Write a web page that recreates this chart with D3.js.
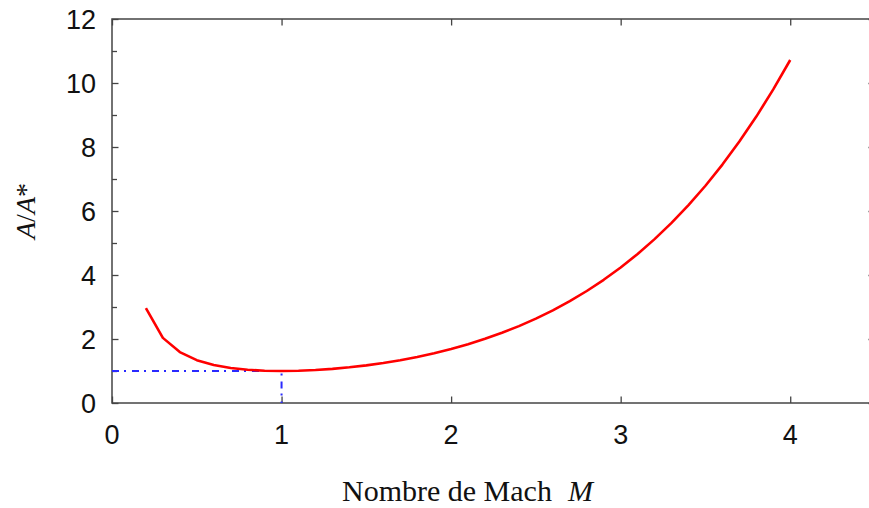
<!DOCTYPE html>
<html><head><meta charset="utf-8">
<script src="https://cdn.jsdelivr.net/npm/d3@7"></script>
<style>html,body{margin:0;padding:0;background:#fff;overflow:hidden}</style>
</head><body>
<svg id="c" width="869" height="508"></svg>
<script>
const mach = [0.2,0.3,0.4,0.5,0.6,0.7,0.8,0.9,1.0,1.1,1.2,1.3,1.4,1.5,1.6,1.7,1.8,1.9,2.0,2.1,2.2,2.3,2.4,2.5,2.6,2.7,2.8,2.9,3.0,3.1,3.2,3.3,3.4,3.5,3.6,3.7,3.8,3.9,4.0];
const areaRatio = [2.9635,2.0351,1.5901,1.3398,1.1882,1.0944,1.0382,1.0089,1.0000,1.0079,1.0304,1.0663,1.1149,1.1762,1.2502,1.3376,1.4390,1.5552,1.6875,1.8369,2.0050,2.1931,2.4031,2.6367,2.8960,3.1830,3.5001,3.8498,4.2346,4.6573,5.1210,5.6287,6.1837,6.7896,7.4501,8.1691,8.9506,9.7990,10.719];
const sonicX = [0, 1, 1];
const sonicY = [1, 1, 0];
const xTicks = [0,1,2,3,4];
const yTicks = [0,2,4,6,8,10,12];
const yMinor = [1,3,5,7,9,11];

const svg = d3.select("#c");
const L = 112, R = 875, T = 19, B = 403;
const x = d3.scaleLinear().domain([0,4.5]).range([L,R]);
const y = d3.scaleLinear().domain([0,12]).range([B,T]);
const axisCol = "#444";

// frame
svg.append("rect").attr("x",L).attr("y",T).attr("width",R-L).attr("height",B-T)
  .attr("fill","none").attr("stroke",axisCol).attr("stroke-width",1.5);

// bottom ticks (inward)
svg.append("g").attr("transform",`translate(0,${B})`)
  .call(d3.axisBottom(x).tickValues(xTicks).tickSizeInner(-6.5).tickSizeOuter(0).tickFormat(""))
  .call(g=>{g.select(".domain").remove(); g.selectAll("line").attr("stroke",axisCol).attr("stroke-width",1.3);});
// top ticks
svg.append("g").attr("transform",`translate(0,${T})`)
  .call(d3.axisTop(x).tickValues(xTicks).tickSizeInner(-6.5).tickSizeOuter(0).tickFormat(""))
  .call(g=>{g.select(".domain").remove(); g.selectAll("line").attr("stroke",axisCol).attr("stroke-width",1.3);});
// left ticks major/minor
svg.append("g").attr("transform",`translate(${L},0)`)
  .call(d3.axisLeft(y).tickValues(yTicks).tickSizeInner(-6.5).tickSizeOuter(0).tickFormat(""))
  .call(g=>{g.select(".domain").remove(); g.selectAll("line").attr("stroke",axisCol).attr("stroke-width",1.3);});
svg.append("g").attr("transform",`translate(${L},0)`)
  .call(d3.axisLeft(y).tickValues(yMinor).tickSizeInner(-5).tickSizeOuter(0).tickFormat(""))
  .call(g=>{g.select(".domain").remove(); g.selectAll("line").attr("stroke",axisCol).attr("stroke-width",1.3);});
// right ticks
svg.append("g").attr("transform",`translate(${R},0)`)
  .call(d3.axisRight(y).tickValues(yTicks).tickSizeInner(-6.5).tickSizeOuter(0).tickFormat(""))
  .call(g=>{g.select(".domain").remove(); g.selectAll("line").attr("stroke",axisCol).attr("stroke-width",1.3);});

// tick labels
const fs = 27;
svg.append("g").selectAll("text").data(xTicks).join("text")
  .attr("x",d=>x(d)).attr("y",444).attr("text-anchor","middle")
  .attr("font-family","Liberation Sans, Arial, sans-serif").attr("font-size",fs).attr("fill","#111")
  .text(d=>d);
svg.append("g").selectAll("text").data(yTicks).join("text")
  .attr("x",96).attr("y",d=>y(d)+9.5).attr("text-anchor","end")
  .attr("font-family","Liberation Sans, Arial, sans-serif").attr("font-size",fs).attr("fill","#111")
  .text(d=>d);

// sonic reference dash-dot lines
const lineGen = d3.line().x(d=>x(d[0])).y(d=>y(d[1]));
svg.append("path").datum(sonicX.map((v,i)=>[v,sonicY[i]]))
  .attr("d",lineGen).attr("fill","none").attr("stroke","#2a2aff").attr("stroke-width",2)
  .attr("stroke-dasharray","7,5,2,6");

// main curve
svg.append("path").datum(mach.map((m,i)=>[m,areaRatio[i]]))
  .attr("d",lineGen).attr("fill","none").attr("stroke","#ff0000").attr("stroke-width",2.6)
  .attr("stroke-linejoin","round");

// axis titles
const xt = svg.append("text").attr("x",342).attr("y",500.5)
  .attr("font-family","Liberation Serif, Times New Roman, serif").attr("font-size",30).attr("fill","#111");
xt.append("tspan").text("Nombre de Mach");
xt.append("tspan").attr("dx",16).attr("font-style","italic").text("M");

svg.append("text").attr("transform","translate(35,211) rotate(-90)").attr("text-anchor","middle")
  .attr("font-family","Liberation Serif, Times New Roman, serif").attr("font-size",28).attr("fill","#111")
  .html('<tspan font-style="italic">A</tspan>/<tspan font-style="italic">A</tspan>*');
</script>
</body></html>
